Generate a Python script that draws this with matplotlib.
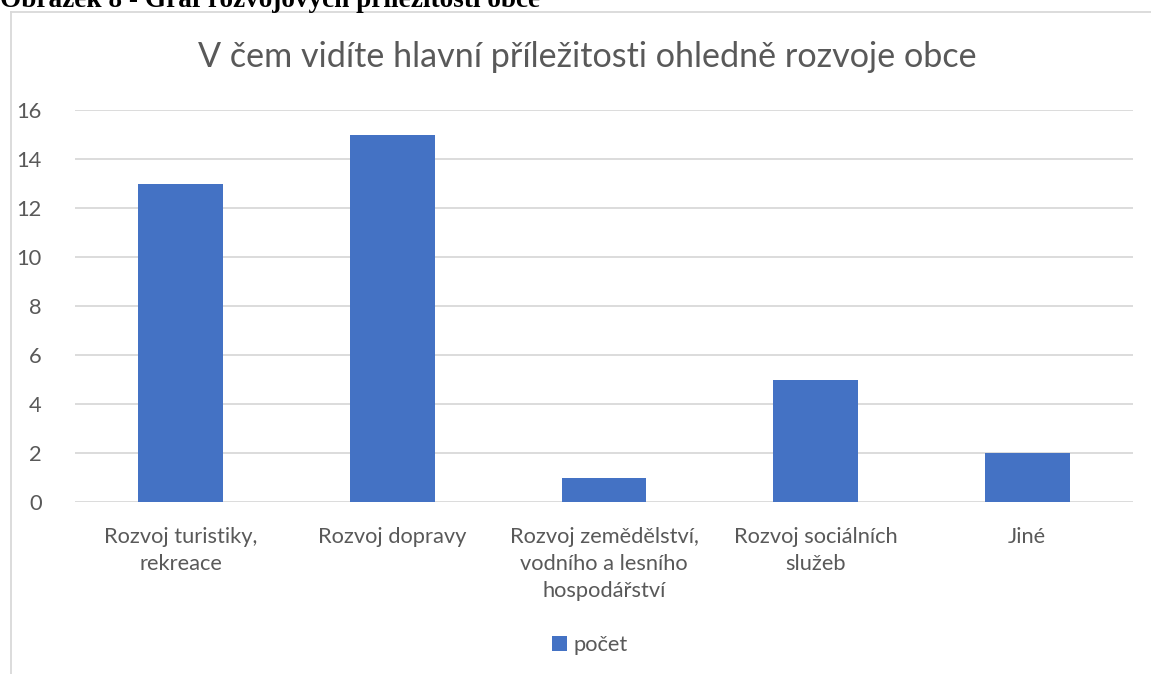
import matplotlib

matplotlib.use("Agg")
import matplotlib.pyplot as plt
import numpy as np
from matplotlib.lines import Line2D

categories = [
    "Rozvoj turistiky,\nrekreace",
    "Rozvoj dopravy",
    "Rozvoj zemědělství,\nvodního a lesního\nhospodářství",
    "Rozvoj sociálních\nslužeb",
    "Jiné",
]
counts = [13, 15, 1, 5, 2]
series_name = "počet"
title = "V čem vidíte hlavní příležitosti ohledně rozvoje obce"
caption = "Obrázek 8 - Graf rozvojových příležitostí obce"

W, H = 1151, 674
GREY = "#595959"
GRID = "#d9d9d9"
BAR = "#4472C4"


def fit_size(fig, text, family, target_px, weight="normal", start=12):
    """Font size (pt) so that text is about target_px wide."""
    t = fig.text(0, 0, text, fontsize=start, family=family, weight=weight)
    r = fig.canvas.get_renderer()
    w = t.get_window_extent(r).width
    t.remove()
    return start * target_px / w


fig = plt.figure(figsize=(W / 100, H / 100), dpi=100)
ax = fig.add_axes([75 / W, 1 - 502 / H, (1133 - 75) / W, (502 - 110) / H])

x = np.arange(len(categories))
ax.bar(x, counts, width=0.4, color=BAR, zorder=3, label=series_name)
ax.set_xlim(-0.5, len(categories) - 0.5)
ax.set_ylim(0, 16)
ax.set_yticks(np.arange(0, 17, 2))
ax.yaxis.grid(True, color=GRID, linewidth=1.3)
ax.set_axisbelow(True)
for s in ax.spines.values():
    s.set_visible(False)

tick_fs = fit_size(fig, "Rozvoj dopravy", "Lato", 149)
ax.set_xticks(x)
ax.set_xticklabels(categories, fontsize=tick_fs, color=GREY, family="Lato",
                   linespacing=1.45)
ax.tick_params(axis="x", length=0, pad=18)
ax.tick_params(axis="y", length=0, pad=24, labelsize=tick_fs, labelcolor=GREY)
for lab in ax.get_yticklabels():
    lab.set_family("Lato")

title_fs = fit_size(fig, title, "Lato", 780)
fig.text(587 / W, 1 - 57 / H, title, fontsize=title_fs, color=GREY,
         family="Lato", ha="center", va="center")

# caption of the figure, cut at the top edge as in the original screenshot
cap_fs = fit_size(fig, caption, "Liberation Serif", 538, weight="bold")
fig.text(0 / W, 1 - 7 / H, caption, fontsize=cap_fs, family="Liberation Serif",
         weight="bold", color="black", ha="left", va="baseline")

# chart frame (only left and top edges are visible in the crop)
fig.add_artist(Line2D([11 / W, 11 / W], [0, 1 - 12 / H], transform=fig.transFigure,
                      color=GRID, linewidth=1.3))
fig.add_artist(Line2D([11 / W, 1], [1 - 12 / H, 1 - 12 / H], transform=fig.transFigure,
                      color=GRID, linewidth=1.3))

leg = fig.legend(loc="center", bbox_to_anchor=(590 / W, 1 - 645 / H), frameon=False,
                 handlelength=0.7, handleheight=0.7, handletextpad=0.3,
                 prop={"family": "Lato", "size": tick_fs})
for t in leg.get_texts():
    t.set_color(GREY)

fig.savefig("out.png", dpi=100)
